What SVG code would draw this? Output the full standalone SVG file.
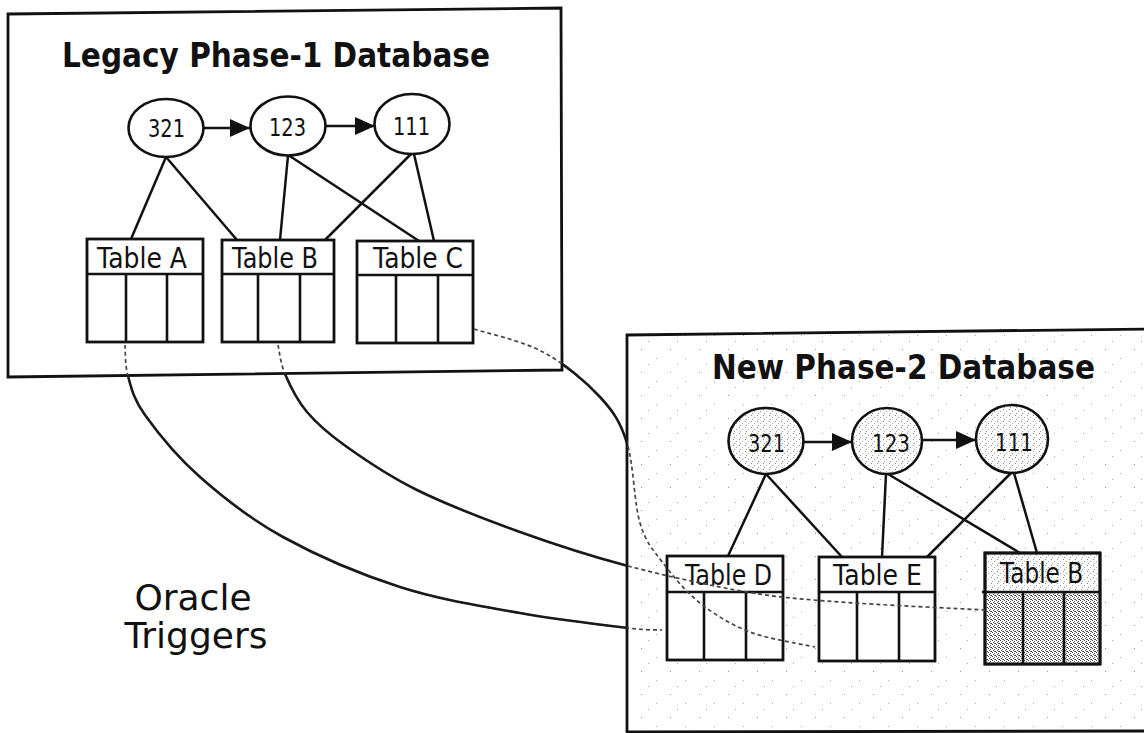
<svg xmlns="http://www.w3.org/2000/svg" width="1144" height="733" viewBox="0 0 1144 733">
<style>
.box{stroke:#111;stroke-width:2.8;}
.tbl{fill:#fff;stroke:#111;stroke-width:2.8;}
.col{stroke:#111;stroke-width:2.6;}
.ell{stroke:#111;stroke-width:2.6;}
.edge{stroke:#111;stroke-width:2.5;fill:none;}
.arr{stroke:#111;stroke-width:2.4;fill:none;marker-end:url(#ah);}
.title{font-family:"DejaVu Sans","Liberation Sans",sans-serif;font-weight:bold;font-size:33px;fill:#111;}
.tl{font-family:"DejaVu Sans","Liberation Sans",sans-serif;font-size:28px;fill:#111;}
.num{font-family:"DejaVu Sans","Liberation Sans",sans-serif;font-size:25px;fill:#111;}
.big{font-family:"DejaVu Sans","Liberation Sans",sans-serif;font-size:36px;fill:#111;}
.trin{fill:none;stroke:#444;stroke-width:1.7;stroke-dasharray:4 3;}
.trout{fill:none;stroke:#1a1a1a;stroke-width:2.6;}
</style>
<defs>
<marker id="ah" markerUnits="userSpaceOnUse" markerWidth="22" markerHeight="20" refX="20" refY="9" orient="auto"><path d="M0,0 L20,9 L0,18 z" fill="#111"/></marker>
<pattern id="bgSpk" width="29" height="23" patternUnits="userSpaceOnUse"><rect width="29" height="23" fill="#fff"/><rect x="3" y="4" width="1" height="1" fill="#9a9a9a"/><rect x="18" y="13" width="1" height="1" fill="#b0b0b0"/><rect x="10" y="19" width="1" height="1" fill="#a5a5a5"/></pattern>
<pattern id="midSpk" width="6" height="6" patternUnits="userSpaceOnUse"><rect width="6" height="6" fill="#fff"/><rect x="1" y="1" width="1" height="1" fill="#888"/><rect x="4" y="3" width="1" height="1" fill="#aaa"/><rect x="2" y="5" width="1" height="1" fill="#999"/></pattern>
<pattern id="denseSpk" width="4" height="4" patternUnits="userSpaceOnUse"><rect width="4" height="4" fill="#fff"/><rect x="0" y="0" width="1" height="1" fill="#444"/><rect x="2" y="1" width="1" height="1" fill="#666"/><rect x="1" y="2" width="1" height="1" fill="#555"/><rect x="3" y="3" width="1" height="1" fill="#333"/><rect x="2" y="3" width="1" height="1" fill="#777"/></pattern>
<mask id="outside" maskUnits="userSpaceOnUse" x="0" y="0" width="1144" height="733"><rect width="1144" height="733" fill="#fff"/><polygon points="8,14 561,8 562,370 8,377" fill="#000"/><polygon points="627,335 1150,329 1150,731 627,732" fill="#000"/></mask>
</defs>
<rect width="1144" height="733" fill="#fff"/>

<g id="legacy-db">
<polygon class="box" points="8,14 561,8 562,370 8,377" fill="#fff"/>
<text class="title" x="62" y="67" textLength="428" lengthAdjust="spacingAndGlyphs">Legacy Phase-1 Database</text>
</g>
<g id="new-db">
<polygon class="box" points="627,335 1150,329 1150,731 627,732" fill="url(#bgSpk)"/>
<text class="title" x="712" y="379" textLength="383" lengthAdjust="spacingAndGlyphs">New Phase-2 Database</text>
</g>

<g id="l-321"><ellipse class="ell" cx="166" cy="128" rx="37.5" ry="29" fill="#fff"/><text class="num" x="148" y="137" textLength="37" lengthAdjust="spacingAndGlyphs">321</text></g>
<g id="l-123"><ellipse class="ell" cx="288" cy="126" rx="37.5" ry="29.5" fill="#fff"/><text class="num" x="269" y="136" textLength="37" lengthAdjust="spacingAndGlyphs">123</text></g>
<g id="l-111"><ellipse class="ell" cx="412" cy="124" rx="37.5" ry="30" fill="#fff"/><text class="num" x="393" y="135" textLength="37" lengthAdjust="spacingAndGlyphs">111</text></g>

<g id="l-tableA"><rect class="tbl" x="87" y="239" width="116" height="103"/><line class="col" x1="87" y1="274" x2="203" y2="274"/><line class="col" x1="126" y1="274" x2="126" y2="342"/><line class="col" x1="167" y1="274" x2="167" y2="342"/><text class="tl" x="97" y="268" textLength="90" lengthAdjust="spacingAndGlyphs">Table A</text></g>
<g id="l-tableB"><rect class="tbl" x="222" y="240" width="112" height="102"/><line class="col" x1="222" y1="274" x2="334" y2="274"/><line class="col" x1="258" y1="274" x2="258" y2="342"/><line class="col" x1="300" y1="274" x2="300" y2="342"/><text class="tl" x="232" y="268" textLength="86" lengthAdjust="spacingAndGlyphs">Table B</text></g>
<g id="l-tableC"><rect class="tbl" x="357" y="241" width="116" height="102"/><line class="col" x1="357" y1="275" x2="473" y2="275"/><line class="col" x1="396" y1="275" x2="396" y2="343"/><line class="col" x1="438" y1="275" x2="438" y2="343"/><text class="tl" x="373" y="268" textLength="90" lengthAdjust="spacingAndGlyphs">Table C</text></g>

<g id="n-321"><ellipse class="ell" cx="766" cy="441" rx="37.5" ry="33" fill="url(#midSpk)"/><text class="num" x="748" y="452" textLength="37" lengthAdjust="spacingAndGlyphs">321</text></g>
<g id="n-123"><ellipse class="ell" cx="887" cy="441" rx="35" ry="33" fill="url(#midSpk)"/><text class="num" x="872" y="452" textLength="38" lengthAdjust="spacingAndGlyphs">123</text></g>
<g id="n-111"><ellipse class="ell" cx="1012" cy="439" rx="36" ry="34" fill="url(#midSpk)"/><text class="num" x="995" y="451" textLength="38" lengthAdjust="spacingAndGlyphs">111</text></g>

<g id="n-tableD"><rect class="tbl" x="667" y="556" width="116" height="104"/><line class="col" x1="667" y1="592" x2="783" y2="592"/><line class="col" x1="704" y1="592" x2="704" y2="660"/><line class="col" x1="746" y1="592" x2="746" y2="660"/><text class="tl" x="685" y="585" textLength="87" lengthAdjust="spacingAndGlyphs">Table D</text></g>
<g id="n-tableE"><rect class="tbl" x="819" y="557" width="116" height="104"/><line class="col" x1="819" y1="592" x2="935" y2="592"/><line class="col" x1="857" y1="592" x2="857" y2="661"/><line class="col" x1="899" y1="592" x2="899" y2="661"/><text class="tl" x="833" y="585" textLength="89" lengthAdjust="spacingAndGlyphs">Table E</text></g>
<g id="n-tableB"><rect class="tbl" x="985" y="553" width="115" height="111" style="fill:url(#midSpk)"/><rect x="986.5" y="593.5" width="112" height="69" fill="url(#denseSpk)"/><line class="col" x1="982" y1="592" x2="1100" y2="592"/><line class="col" x1="1023" y1="592" x2="1023" y2="664"/><line class="col" x1="1064" y1="592" x2="1064" y2="664"/><rect x="985" y="553" width="115" height="111" fill="none" stroke="#111" stroke-width="2.8"/><text class="tl" x="1000" y="583" textLength="83" lengthAdjust="spacingAndGlyphs">Table B</text></g>

<g id="label-oracle"><text class="big" x="193" y="610" text-anchor="middle">Oracle</text><text class="big" x="196" y="648" text-anchor="middle">Triggers</text></g>

<g id="connectors">
<line class="arr" x1="204" y1="128" x2="250" y2="128"/>
<line class="arr" x1="326" y1="126" x2="375" y2="126"/>
<line class="arr" x1="804" y1="442" x2="852" y2="442"/>
<line class="arr" x1="923" y1="440" x2="976" y2="440"/>
<line class="edge" x1="166" y1="157" x2="131" y2="239"/>
<line class="edge" x1="166" y1="157" x2="237" y2="240"/>
<line class="edge" x1="288" y1="155.5" x2="280" y2="240"/>
<line class="edge" x1="289" y1="155.5" x2="419" y2="241"/>
<line class="edge" x1="411" y1="154" x2="325" y2="240"/>
<line class="edge" x1="414" y1="154" x2="434" y2="241"/>
<line class="edge" x1="766" y1="474" x2="728" y2="556"/>
<line class="edge" x1="766" y1="474" x2="842" y2="557"/>
<line class="edge" x1="886" y1="474" x2="882" y2="557"/>
<line class="edge" x1="888" y1="474" x2="1020" y2="553"/>
<line class="edge" x1="1011" y1="473" x2="927" y2="557"/>
<line class="edge" x1="1014" y1="473" x2="1037" y2="553"/>
<path class="trin" d="M474,329 C485.5,332.8 522,340.7 543,352 C564,363.3 586,381.8 600,397 C614,412.2 620.3,422 627,443 C633.7,464 634,503 640,523 C646,543 653,549.7 663,563 C673,576.3 685.5,591.5 700,603 C714.5,614.5 730.8,624.7 750,632 C769.2,639.3 804.2,644.5 815,647"/>
<path class="trin" d="M278,345 C279.2,349.8 280.2,362.8 285,374 C289.8,385.2 296.7,399.8 307,412 C317.3,424.2 328.7,434 347,447 C365.3,460 388.2,475.8 417,490 C445.8,504.2 484.8,519.3 520,532 C555.2,544.7 590.2,556 628,566 C665.8,576 711.7,586 747,592 C782.3,598 800.3,599 840,602 C879.7,605 960.8,608.7 985,610"/>
<path class="trin" d="M125,345 C125.5,350.2 124.7,364.3 128,376 C131.3,387.7 133,398.2 145,415 C157,431.8 177,456.7 200,477 C223,497.3 249.7,518.7 283,537 C316.3,555.3 360.5,574.3 400,587 C439.5,599.7 482,606.2 520,613 C558,619.8 604.3,625.2 628,628 C651.7,630.8 656.3,629.7 662,630"/>
<path class="trout" mask="url(#outside)" d="M474,329 C485.5,332.8 522,340.7 543,352 C564,363.3 586,381.8 600,397 C614,412.2 620.3,422 627,443 C633.7,464 634,503 640,523"/>
<path class="trout" mask="url(#outside)" d="M278,345 C279.2,349.8 280.2,362.8 285,374 C289.8,385.2 296.7,399.8 307,412 C317.3,424.2 328.7,434 347,447 C365.3,460 388.2,475.8 417,490 C445.8,504.2 484.8,519.3 520,532 C555.2,544.7 590.2,556 628,566 C665.8,576 711.7,586 747,592"/>
<path class="trout" mask="url(#outside)" d="M125,345 C125.5,350.2 124.7,364.3 128,376 C131.3,387.7 133,398.2 145,415 C157,431.8 177,456.7 200,477 C223,497.3 249.7,518.7 283,537 C316.3,555.3 360.5,574.3 400,587 C439.5,599.7 482,606.2 520,613 C558,619.8 604.3,625.2 628,628 C651.7,630.8 656.3,629.7 662,630"/>
</g>
</svg>
